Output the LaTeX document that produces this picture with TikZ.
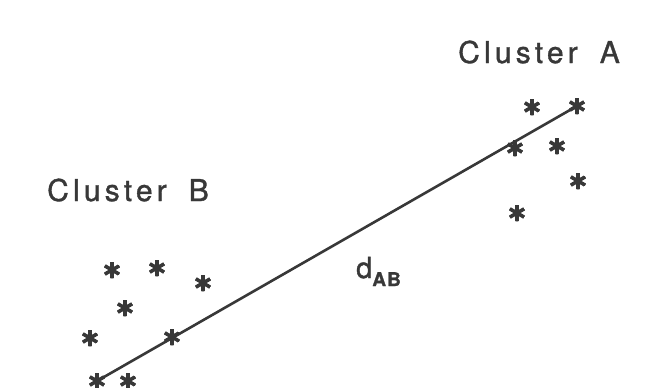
\documentclass[tikz,border=0pt]{standalone}
\usepackage{fontspec}
\setmainfont{TeX Gyre Heros}
\begin{document}
\begin{tikzpicture}[x=1pt,y=-1pt,
  ink/.style={color=black!78},
  starpt/.style={circle,inner sep=0pt,minimum size=17pt,
    path picture={\foreach \a in {90,30,150}
      {\draw[ink,line width=3.6pt,shift={(path picture bounding box.center)}] (\a:8.5) -- (\a+180:8.5);}}},
  lbl/.style={ink,inner sep=0pt,font=\fontsize{30}{30}\selectfont\addfontfeature{LetterSpace=14,FakeBold=1.2}},
  link/.style={ink,line width=2.6pt}]
\useasboundingbox (0,0) rectangle (661,388);
% cluster A
\node[starpt] (a1) at (532,107) {};
\node[starpt] (a2) at (577,106) {};
\node[starpt] (a3) at (515,148) {};
\node[starpt] (a4) at (557,146) {};
\node[starpt] (a5) at (578,181) {};
\node[starpt] (a6) at (517,213) {};
% cluster B
\node[starpt] (b1) at (112,270) {};
\node[starpt] (b2) at (157,268) {};
\node[starpt] (b3) at (203,283) {};
\node[starpt] (b4) at (125,308) {};
\node[starpt] (b5) at (90,338) {};
\node[starpt] (b6) at (172,337) {};
\node[starpt] (b7) at (97,381) {};
\node[starpt] (b8) at (128,381) {};
\draw[link] (b7.center) -- (a2.center);
% labels
\node[lbl,anchor=base west] (la) at (458,63) {Cluster\hspace{22pt}A};
\node[lbl,anchor=base west] (lb) at (47,201) {Cluster\hspace{22pt}B};
\node[ink,inner sep=0pt,anchor=base west,font=\fontsize{29}{29}\selectfont\addfontfeature{FakeBold=1.2}] (d) at (356,278)
  {d\raisebox{-8pt}{\fontsize{19}{19}\selectfont\bfseries\addfontfeature{LetterSpace=6}AB}};
\end{tikzpicture}
\end{document}
